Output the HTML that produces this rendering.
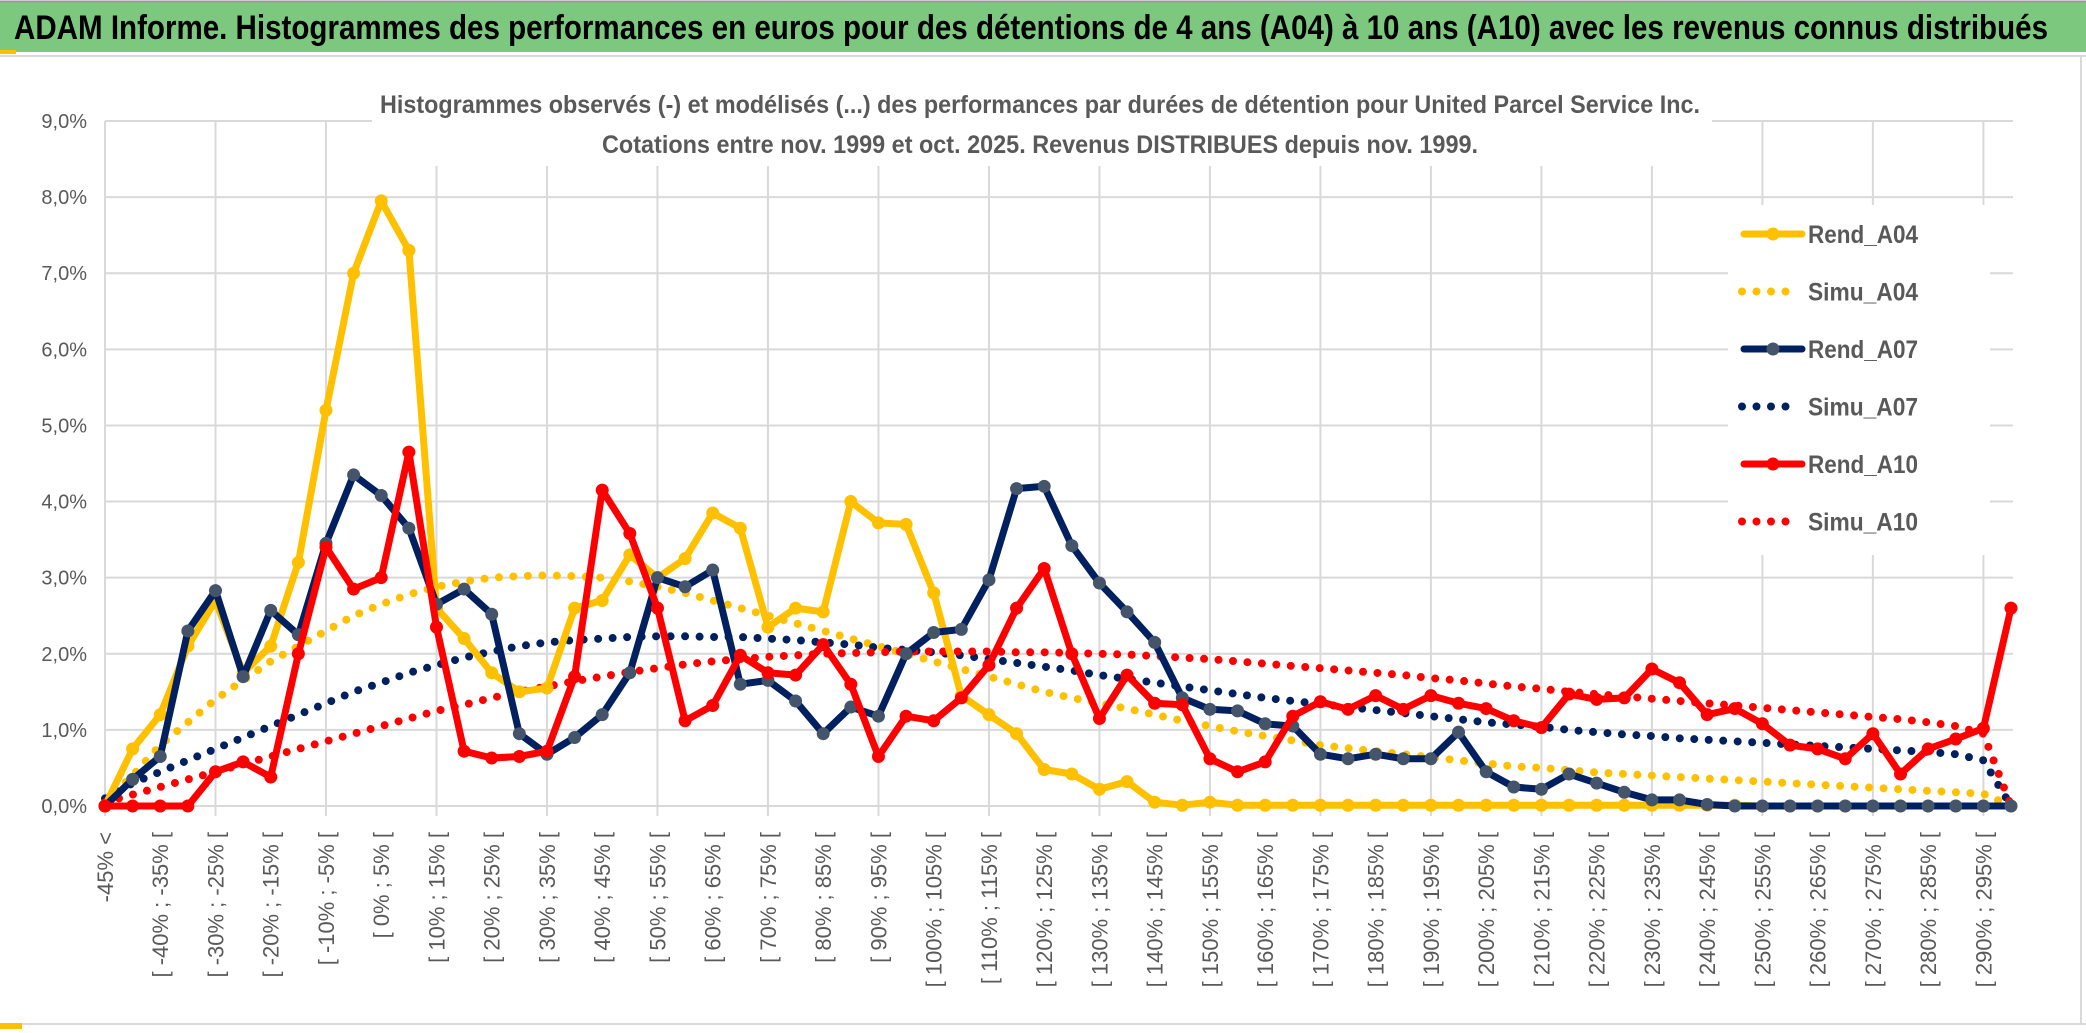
<!DOCTYPE html>
<html><head><meta charset="utf-8"><style>
html,body{margin:0;padding:0;background:#fff;}
svg{display:block;font-family:"Liberation Sans",sans-serif;}
</style></head><body>
<svg id="chart" width="2086" height="1033" viewBox="0 0 2086 1033" xmlns="http://www.w3.org/2000/svg">
<rect x="0" y="0" width="2086" height="1033" fill="#fff"/>
<rect x="0" y="2" width="2086" height="50" fill="#7dc87f"/>
<line x1="0" y1="1.5" x2="2086" y2="1.5" stroke="#999" stroke-width="2"/>
<text x="14" y="39" font-size="34" font-weight="bold" fill="#000" textLength="2034" lengthAdjust="spacingAndGlyphs">ADAM Informe. Histogrammes des performances en euros pour des détentions de 4 ans (A04) à 10 ans (A10) avec les revenus connus distribués</text>
<rect x="0" y="50" width="16" height="4" fill="#ffc000"/>
<line x1="0" y1="56" x2="2086" y2="56" stroke="#d9d9d9" stroke-width="2"/>
<line x1="2081" y1="56" x2="2081" y2="1023" stroke="#d9d9d9" stroke-width="2"/>
<line x1="0" y1="1024" x2="2086" y2="1024" stroke="#d9d9d9" stroke-width="2"/>
<rect x="0" y="1023" width="22" height="6" fill="#ffc000"/>
<g id="grid"></g>
<rect x="372" y="78" width="1340" height="88" fill="#fff"/>
<text x="1040" y="113" font-size="25" font-weight="bold" fill="#595959" text-anchor="middle" textLength="1320" lengthAdjust="spacingAndGlyphs">Histogrammes observés (-) et modélisés (...) des performances par durées de détention pour United Parcel Service Inc.</text>
<text x="1040" y="153" font-size="25" font-weight="bold" fill="#595959" text-anchor="middle" textLength="876" lengthAdjust="spacingAndGlyphs">Cotations entre nov. 1999 et oct. 2025. Revenus DISTRIBUES depuis nov. 1999.</text>
<g id="yaxis"></g>
<g id="xaxis"></g>
<g id="series"></g>
<g id="legend"></g>
</svg>
<script>
const rendA04 = [0,0.75,1.2,2.1,2.7,1.75,2.1,3.2,5.2,7.0,7.95,7.3,2.6,2.2,1.75,1.5,1.55,2.6,2.7,3.3,3.0,3.25,3.85,3.65,2.35,2.6,2.55,4.0,3.72,3.7,2.8,1.45,1.2,0.95,0.48,0.42,0.22,0.32,0.05,0.01,0.05,0.01,0.01,0.01,0.01,0.01,0.01,0.01,0.01,0.01,0.01,0.01,0.01,0.01,0.01,0.01,0.01,0.01,0.01,0.01,0,0,0,0,0,0,0,0,0,0];
const simuA04 = [0.05,0.4,0.8,1.1,1.4,1.65,1.9,2.1,2.3,2.5,2.65,2.78,2.88,2.95,3.0,3.02,3.03,3.02,3.0,2.95,2.88,2.8,2.7,2.6,2.5,2.4,2.3,2.2,2.1,2.0,1.9,1.8,1.7,1.6,1.5,1.42,1.35,1.28,1.2,1.12,1.05,0.98,0.92,0.86,0.8,0.76,0.72,0.68,0.64,0.6,0.56,0.52,0.5,0.47,0.44,0.42,0.4,0.38,0.36,0.34,0.32,0.3,0.28,0.26,0.24,0.22,0.2,0.18,0.16,0.0];
const rendA07 = [0,0.35,0.65,2.3,2.83,1.7,2.57,2.25,3.45,4.35,4.08,3.65,2.65,2.85,2.52,0.95,0.68,0.9,1.2,1.75,3.0,2.88,3.1,1.6,1.65,1.38,0.95,1.3,1.18,2.0,2.28,2.32,2.97,4.17,4.2,3.42,2.93,2.55,2.15,1.42,1.27,1.25,1.08,1.05,0.68,0.62,0.68,0.62,0.62,0.97,0.45,0.25,0.22,0.42,0.3,0.18,0.08,0.08,0.02,0,0,0,0,0,0,0,0,0,0,0];
const simuA07 = [0.1,0.3,0.45,0.6,0.75,0.9,1.05,1.2,1.35,1.5,1.62,1.75,1.85,1.95,2.03,2.1,2.15,2.18,2.2,2.22,2.23,2.23,2.22,2.22,2.2,2.18,2.15,2.12,2.08,2.05,2.02,1.98,1.93,1.88,1.83,1.78,1.72,1.67,1.62,1.57,1.52,1.47,1.42,1.38,1.34,1.3,1.26,1.22,1.18,1.14,1.1,1.07,1.04,1.0,0.97,0.94,0.92,0.89,0.87,0.85,0.83,0.81,0.79,0.77,0.75,0.73,0.71,0.68,0.6,0.0];
const rendA10 = [0,0,0,0,0.45,0.58,0.38,2.0,3.4,2.85,3.0,4.65,2.35,0.72,0.63,0.65,0.72,1.7,4.15,3.58,2.6,1.12,1.32,1.98,1.75,1.72,2.12,1.6,0.65,1.18,1.12,1.42,1.85,2.6,3.12,2.0,1.15,1.72,1.35,1.33,0.62,0.45,0.58,1.18,1.37,1.27,1.45,1.27,1.45,1.35,1.28,1.12,1.03,1.47,1.4,1.42,1.8,1.62,1.2,1.28,1.08,0.8,0.75,0.62,0.95,0.42,0.75,0.88,1.02,2.6];
const simuA10 = [0.05,0.15,0.25,0.35,0.45,0.55,0.65,0.75,0.85,0.95,1.05,1.15,1.25,1.33,1.42,1.5,1.57,1.64,1.7,1.76,1.81,1.86,1.9,1.93,1.96,1.98,2.0,2.01,2.02,2.03,2.03,2.03,2.03,2.02,2.02,2.01,2.0,1.99,1.97,1.95,1.93,1.9,1.87,1.84,1.81,1.78,1.75,1.72,1.68,1.65,1.61,1.57,1.54,1.5,1.47,1.44,1.41,1.38,1.35,1.32,1.29,1.26,1.23,1.2,1.17,1.14,1.1,1.05,0.95,0.0];
const yTicks = [0,1,2,3,4,5,6,7,8,9];
const yTickLabels = ["0,0%","1,0%","2,0%","3,0%","4,0%","5,0%","6,0%","7,0%","8,0%","9,0%"];
const categories = ["-45% <"];
for (let b = -45; b < 295; b += 5) categories.push("[ " + b + "% ; " + (b + 5) + "% [");
categories.push("295% >=");

const NS = "http://www.w3.org/2000/svg";
const X0 = 105, X1 = 2011, Y0 = 806, Y9 = 121;
const n = categories.length;
function xPos(i){ return X0 + i * (X1 - X0) / (n - 1); }
function yPos(v){ return Y0 - v * (Y0 - Y9) / 9; }
function mk(tag, attrs, parent){ const e = document.createElementNS(NS, tag); for (const k in attrs) e.setAttribute(k, attrs[k]); parent.appendChild(e); return e; }

const grid = document.getElementById('grid');
yTicks.forEach((t) => {
  const l = mk('line', {x1: X0, x2: X1 + 2, y1: yPos(t), y2: yPos(t), stroke: '#d9d9d9', 'stroke-width': 2}, grid);
  
  
});
for (let i = 0; i < n; i += 4) {
  const l = mk('line', {x1: xPos(i), x2: xPos(i), y1: Y9, y2: Y0 + 10, stroke: '#d9d9d9', 'stroke-width': 2}, grid);
  
  
}

const yax = document.getElementById('yaxis');
yTicks.forEach((t, k) => {
  const tx = mk('text', {x: 87, y: yPos(t) + 7, 'font-size': 20, fill: '#595959', 'text-anchor': 'end'}, yax);
  tx.textContent = yTickLabels[k];
  
  
});

const xax = document.getElementById('xaxis');
for (let i = 0; i < n; i += 2) {
  const x = xPos(i) + 8;
  const tx = mk('text', {x: x, y: 832, 'font-size': 22, fill: '#595959', 'text-anchor': 'end', transform: 'rotate(-90 ' + x + ' 832)'}, xax);
  tx.textContent = categories[i];
  
  
}

const ser = document.getElementById('series');
function pts(arr){ return arr.map((v, i) => xPos(i).toFixed(1) + ',' + yPos(v).toFixed(1)).join(' '); }
function dotted(arr, color, name){
  const p = mk('polyline', {points: pts(arr), fill: 'none', stroke: color, 'stroke-width': 8, 'stroke-linecap': 'round', 'stroke-dasharray': '0 14.5'}, ser);
  
  
}
function solid(arr, color, mcolor, name){
  const g = mk('g', {}, ser);
  
  
  mk('polyline', {points: pts(arr), fill: 'none', stroke: color, 'stroke-width': 7, 'stroke-linejoin': 'round', 'stroke-linecap': 'round'}, g);
  arr.forEach((v, i) => {
    const c = mk('circle', {cx: xPos(i), cy: yPos(v), r: 6.5, fill: mcolor}, g);
    
    
  });
}
dotted(simuA04, '#ffc000', 'simu-a04-line');
dotted(simuA07, '#002060', 'simu-a07-line');
dotted(simuA10, '#ff0000', 'simu-a10-line');
solid(rendA04, '#ffc000', '#ffc000', 'rend-a04-line');
solid(rendA07, '#002060', '#44546a', 'rend-a07-line');
solid(rendA10, '#ff0000', '#ff0000', 'rend-a10-line');

const leg = document.getElementById('legend');
const lbg = mk('rect', {x: 1728, y: 205, width: 262, height: 350, fill: '#fff'}, leg);


const legendNames = ["Rend_A04","Simu_A04","Rend_A07","Simu_A07","Rend_A10","Simu_A10"];
const legendColors = ['#ffc000','#ffc000','#002060','#002060','#ff0000','#ff0000'];
const legendMarkers = ['#ffc000',null,'#44546a',null,'#ff0000',null];
legendNames.forEach((nm, k) => {
  const y = 234 + k * 57.5;
  const g = mk('g', {}, leg);
  
  
  if (legendMarkers[k]) {
    mk('line', {x1: 1744, x2: 1802, y1: y, y2: y, stroke: legendColors[k], 'stroke-width': 7, 'stroke-linecap': 'round'}, g);
    mk('circle', {cx: 1773, cy: y, r: 6.5, fill: legendMarkers[k]}, g);
  } else {
    mk('line', {x1: 1742, x2: 1800, y1: y, y2: y, stroke: legendColors[k], 'stroke-width': 8, 'stroke-linecap': 'round', 'stroke-dasharray': '0 14.5'}, g);
  }
  const t = mk('text', {x: 1808, y: y + 9, 'font-size': 25, 'font-weight': 'bold', fill: '#595959', textLength: 110, lengthAdjust: 'spacingAndGlyphs'}, g);
  t.textContent = nm;
});
</script>
</body></html>
